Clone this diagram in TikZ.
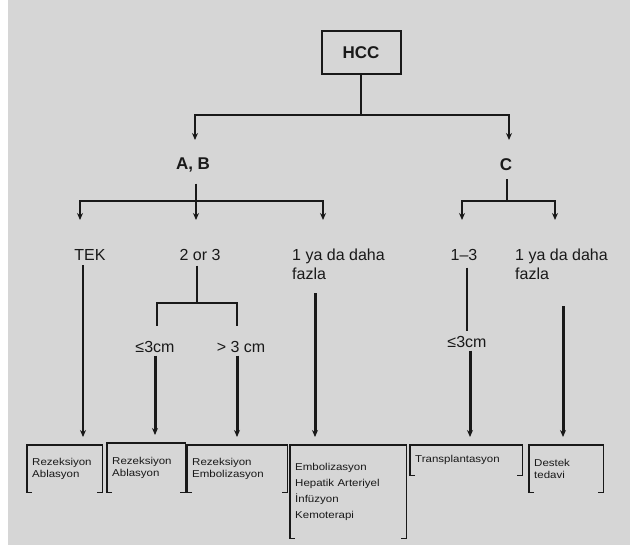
\documentclass[tikz,border=0pt]{standalone}
\usepackage{fontspec}
\setmainfont{Liberation Sans}
\newfontfamily\boxfont[FakeStretch=1.15]{Liberation Sans}
\usetikzlibrary{arrows.meta}

\definecolor{bggray}{RGB}{214,214,214}
\definecolor{ink}{RGB}{25,25,25}

% open bracket round a result box
\newcommand{\bracketbox}[1]{%
  \draw[brk] ([xshift=5pt]#1.south west) -- (#1.south west) -- (#1.north west)
    -- (#1.north east) -- (#1.south east) -- ([xshift=-5pt]#1.south east);}

\begin{document}
\begin{tikzpicture}[x=1pt, y=-1pt,
  lbl/.style={font=\fontsize{16}{19}\selectfont, inner sep=1pt, text=ink, anchor=north},
  head/.style={font=\fontsize{17}{20}\selectfont\bfseries, inner sep=1pt, text=ink, anchor=north},
  tree/.style={line width=2pt, draw=ink},
  arr/.style={tree, -{Stealth[length=7pt,width=6pt]}},
  thinarr/.style={arr, line width=1.2pt},
  thickarr/.style={arr, line width=3pt},
  brk/.style={line width=1.6pt, draw=ink},
  res/.style={anchor=north west, align=left, inner xsep=5pt, inner ysep=0pt,
    text=ink, font=\boxfont\fontsize{10}{12}\selectfont}
]
\useasboundingbox (0,0) rectangle (630,548);
\fill[bggray] (8,0) rectangle (630,545);

% top
\node[draw=ink, line width=2pt, minimum width=79pt, minimum height=43pt,
  font=\fontsize{17}{20}\selectfont\bfseries, text=ink] (hcc) at (361,53) {HCC};
\node[head] (ab) at (193,157) {A, B};
\node[head] (c) at (506,157) {C};

\coordinate (j0) at (361,115);
\draw[tree] (hcc) -- (j0);
\draw[arr, shorten >=17pt] (j0) -| ([xshift=2pt]ab.north);
\draw[arr, shorten >=17pt] (j0) -| ([xshift=3pt]c.north);

% second row
\node[lbl] (tek) at (90,248) {TEK};
\node[lbl] (two) at (200,248) {2 or 3};
\node[lbl, anchor=north west, align=left] (many) at (291,248) {1 ya da daha\\fazla};
\node[lbl] (onethree) at (464,248) {1--3};
\node[lbl, anchor=north west, align=left] (manyc) at (514,248) {1 ya da daha\\fazla};

\coordinate (j1) at (196,201);
\draw[tree, shorten <=10pt] (ab.south -| j1) -- (j1);
\draw[arr, shorten >=28pt] (j1) -- (j1 |- two.north);
\draw[arr, shorten >=28pt] (j1) -| ([xshift=-10pt]tek.north);
\draw[arr, shorten >=28pt] (j1) -| ([xshift=32pt]many.north west);

\coordinate (j2) at (507,201);
\draw[tree, shorten <=8pt] (c.south -| j2) -- (j2);
\draw[arr, shorten >=28pt] (j2) -| ([xshift=-2pt]onethree.north);
\draw[arr, shorten >=28pt] (j2) -| ([xshift=41pt]manyc.north west);

% size split
\node[lbl] (le) at (155,340) {≤3cm};
\node[lbl] (gt) at (241,340) {> 3 cm};
\node[lbl] (lec) at (467,335) {≤3cm};

\coordinate (j3) at (197,303);
\draw[tree, shorten <=4pt] (two.south -| j3) -- (j3);
\draw[tree, shorten >=14pt] (j3) -| ([xshift=2pt]le.north);
\draw[tree, shorten >=14pt] (j3) -| ([xshift=-4pt]gt.north);
\draw[tree, line width=1.5pt, shorten <=6pt, shorten >=4pt] ([xshift=3pt]onethree.south) -- ([xshift=3pt]onethree.south |- lec.north);

% results
\node[res, text width=65pt, minimum height=47pt] (resA) at (27,445) {Rezeksiyon\\Ablasyon};
\node[res, text width=68pt, minimum height=49pt] (resB) at (107,443) {Rezeksiyon\\Ablasyon};
\node[res, text width=90pt, minimum height=47pt] (resEmb) at (187,445) {Rezeksiyon\\Embolizasyon};
\node[res, text width=106pt, minimum height=93pt, font=\boxfont\fontsize{10}{16}\selectfont] (emb) at (290,445)
  {Embolizasyon\\Hepatik Arteriyel\\İnfüzyon\\Kemoterapi};
\node[res, text width=102pt, minimum height=30pt] (trans) at (410,445) {Transplantasyon};
\node[res, text width=64pt, minimum height=47pt] (dest) at (529,445) {Destek\\tedavi};

\bracketbox{resA}
\bracketbox{resB}
\bracketbox{resEmb}
\bracketbox{emb}
\bracketbox{trans}
\bracketbox{dest}

\draw[thinarr, shorten <=4pt, shorten >=8pt] ([xshift=-7pt]tek.south) -- ([xshift=-7pt]tek.south |- resA.north);
\draw[thickarr, shorten <=2pt, shorten >=8pt] (le.south) -- (le.south |- resB.north);
\draw[thickarr, shorten <=2pt, shorten >=8pt] ([xshift=-4pt]gt.south) -- ([xshift=-4pt]gt.south |- resEmb.north);
\draw[thickarr, shorten <=12pt, shorten >=8pt] ([xshift=24pt]many.south west) -- ([xshift=24pt]many.south west |- emb.north);
\draw[thickarr, shorten <=2pt, shorten >=8pt] ([xshift=3pt]lec.south) -- ([xshift=3pt]lec.south |- trans.north);
\draw[thickarr, shorten <=25pt, shorten >=8pt] ([xshift=49pt]manyc.south west) -- ([xshift=49pt]manyc.south west |- dest.north);
\end{tikzpicture}
\end{document}
